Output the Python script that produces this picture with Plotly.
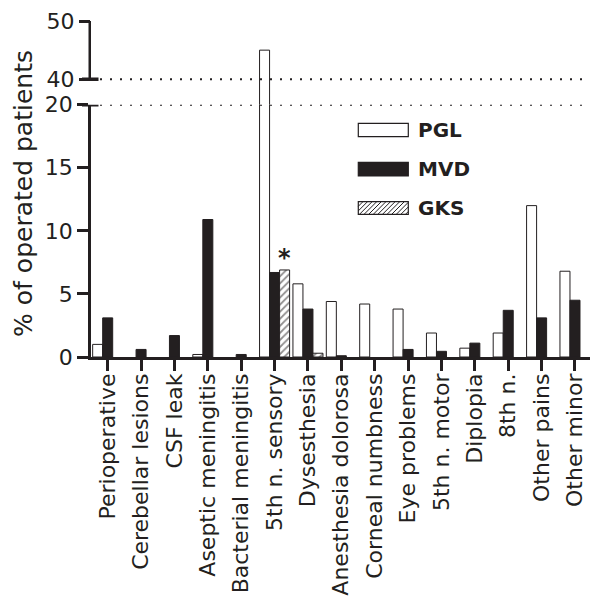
import plotly.graph_objects as go

categories = ["Perioperative", "Cerebellar lesions", "CSF leak", "Aseptic meningitis",
              "Bacterial meningitis", "5th n. sensory", "Dysesthesia", "Anesthesia dolorosa",
              "Corneal numbness", "Eye problems", "5th n. motor", "Diplopia", "8th n.",
              "Other pains", "Other minor"]
pgl = [1.0, 0, 0, 0.2, 0, 45.0, 5.8, 4.4, 4.2, 3.8, 1.9, 0.7, 1.9, 12.0, 6.8]
mvd = [3.1, 0.6, 1.7, 10.9, 0.2, 6.7, 3.8, 0.1, 0, 0.6, 0.45, 1.1, 3.7, 3.1, 4.5]
gks = [0, 0, 0, 0, 0, 6.9, 0.3, 0, 0, 0, 0, 0, 0, 0, 0]
lower_ticks = [0, 5, 10, 15, 20]
upper_ticks = [40, 50]
series_names = ["PGL", "MVD", "GKS"]

INK = "#231f20"
FONT = "DejaVu Sans"
W, H = 591, 601
ML, MR, MT, MB = 91, 1, 21, 244
PW, PH = W - ML - MR, H - MT - MB


def px_x(px):
    return (px - ML) / PW


def px_y(py):
    return (H - MB - py) / PH


def outline(vals):
    # no outline for empty bars
    return [1 if v else 0 for v in vals]


split = px_y(104.7)       # where the lower (0-20) axis ends
upper_lo = 50 - (1 - split) * PH / 5.83  # upper axis value at the split

bar_w = 0.3

fig = go.Figure()
fig.add_trace(go.Bar(x=categories, y=pgl, name="PGL", offset=-0.45, width=bar_w,
                     marker=dict(color="white", line=dict(color=INK, width=outline(pgl))),
                     showlegend=False, xaxis="x", yaxis="y"))
fig.add_trace(go.Bar(x=categories, y=mvd, name="MVD", offset=-0.15, width=bar_w,
                     marker=dict(color=INK, line=dict(color=INK, width=outline(mvd))),
                     showlegend=False, xaxis="x", yaxis="y"))
fig.add_trace(go.Bar(x=categories, y=gks, name="GKS", offset=0.15, width=bar_w,
                     marker=dict(color="white", line=dict(color=INK, width=outline(gks)),
                                 pattern=dict(shape="/", fgcolor=INK, bgcolor="white",
                                              size=5, solidity=0.35)),
                     showlegend=False, xaxis="x", yaxis="y"))
# upper part of the broken axis (same PGL data, only the tall bar is visible there)
fig.add_trace(go.Bar(x=categories, y=pgl, name="PGL", offset=-0.45, width=bar_w,
                     marker=dict(color="white", line=dict(color=INK, width=outline(pgl))),
                     showlegend=False, xaxis="x", yaxis="y2"))

tickfont = dict(family=FONT, size=22, color=INK)
fig.update_layout(
    width=W, height=H,
    margin=dict(l=ML, r=MR, t=MT, b=MB, pad=0),
    paper_bgcolor="white", plot_bgcolor="white",
    barmode="overlay",
    xaxis=dict(domain=[0, 1], range=[-0.5, 14.45], showline=True, linewidth=2.5,
               linecolor=INK, ticks="outside", ticklen=11, tickwidth=2.5, tickcolor=INK,
               tickangle=-90, tickfont=tickfont, showgrid=False, zeroline=False,
               ticklabelstandoff=-6, anchor="y"),
    yaxis=dict(domain=[0, split], range=[0, 20], tickvals=lower_ticks, showline=True,
               linewidth=2.5, linecolor=INK, ticks="outside", ticklen=11, tickwidth=2.5,
               tickcolor=INK, tickfont=tickfont, showgrid=False, zeroline=False,
               anchor="x"),
    yaxis2=dict(domain=[split, 1], range=[upper_lo, 50], tickvals=upper_ticks,
                showline=False, ticks="outside", ticklen=11, tickwidth=2.5,
                tickcolor=INK, tickfont=tickfont, showgrid=False, zeroline=False,
                anchor="x"),
)

shapes = []
# upper axis line segment 40-50
shapes.append(dict(type="line", xref="paper", xsizemode="pixel", xanchor=0,
                   x0=-1.25, x1=-1.25, yref="y2", y0=40, y1=50,
                   line=dict(color=INK, width=2.5)))
# axis break markers
for yr, yv in (("y2", 40), ("y", 20)):
    shapes.append(dict(type="line", xref="paper", xsizemode="pixel", xanchor=0,
                       x0=-9, x1=7.5, yref=yr, y0=yv, y1=yv,
                       line=dict(color=INK, width=3.5)))
    shapes.append(dict(type="line", xref="paper", x0=px_x(100), x1=1, yref=yr,
                       y0=yv, y1=yv, line=dict(color=INK, width=2, dash="2px,8px")))

# custom legend
leg_x0, leg_x1 = px_x(358.3), px_x(408.3)
boxes = [(123.3, 136.7), (162.3, 176.0), (201.7, 214.3)]
fills = ["white", INK, "white"]
annotations = []
for name, (t, b), fc in zip(series_names, boxes, fills):
    shapes.append(dict(type="rect", xref="paper", yref="paper", x0=leg_x0, x1=leg_x1,
                       y0=px_y(b), y1=px_y(t), fillcolor=fc,
                       line=dict(color=INK, width=1.2), layer="above"))
    annotations.append(dict(text=f"<b>{name}</b>", xref="paper", yref="paper",
                            x=px_x(416), y=px_y((t + b) / 2), xanchor="left",
                            yanchor="middle", showarrow=False,
                            font=dict(family=FONT, size=20, color=INK)))
# hatch lines for the GKS legend swatch
t, b = boxes[2]
lx0, lx1 = 358.3, 408.3
h = b - t
step = 4.6
s = lx0 - h
while s < lx1:
    ax, ay = s, b
    bx, by = s + h, t
    if ax < lx0:
        ay = b - (lx0 - ax)
        ax = lx0
    if bx > lx1:
        by = t + (bx - lx1)
        bx = lx1
    if bx > ax:
        shapes.append(dict(type="line", xref="paper", yref="paper",
                           x0=px_x(ax), y0=px_y(ay), x1=px_x(bx), y1=px_y(by),
                           line=dict(color=INK, width=1)))
    s += step

annotations.append(dict(text="% of operated patients", xref="paper", yref="paper",
                        x=px_x(23.5), y=px_y(193.4), xanchor="center", yanchor="middle",
                        textangle=-90, showarrow=False,
                        font=dict(family=FONT, size=25, color=INK)))
annotations.append(dict(text="<b>*</b>", xref="x", yref="y", x=categories[5],
                        y=gks[5], xshift=10, yshift=-4, yanchor="bottom", showarrow=False,
                        font=dict(family=FONT, size=24, color=INK)))

fig.update_layout(shapes=shapes, annotations=annotations)
fig.write_html("out.html", config={"displayModeBar": False},
               post_script="document.body.style.margin='0';")
